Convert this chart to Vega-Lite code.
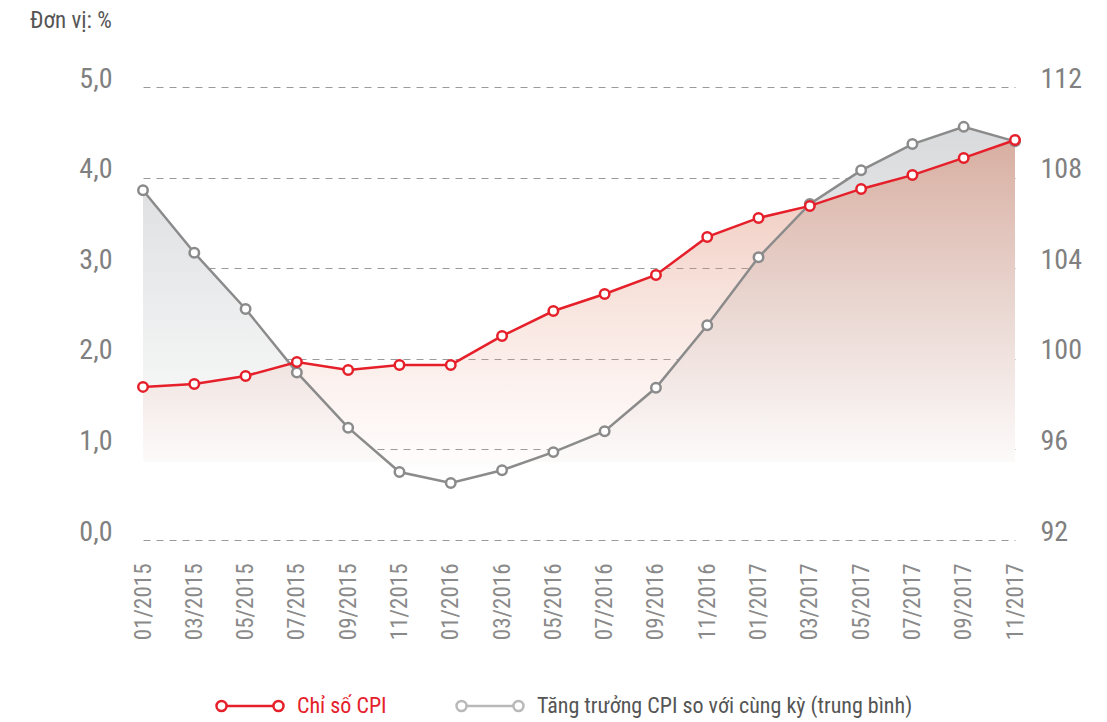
{
  "$schema": "https://vega.github.io/schema/vega-lite/v6.json",
  "width": 872,
  "height": 453,
  "autosize": {"type": "none"},
  "padding": {"left": 143, "top": 87, "right": 92, "bottom": 182},
  "background": "white",
  "title": {
    "text": "Đơn vị: %",
    "anchor": "start",
    "frame": "group",
    "orient": "top",
    "baseline": "alphabetic",
    "offset": 14,
    "dx": -113,
    "font": "Roboto Condensed, Liberation Sans Narrow, DejaVu Sans Condensed, sans-serif",
    "fontSize": 23,
    "fontWeight": "normal",
    "color": "#555555"
  },
  "data": {
    "values": [
      {"month": "01/2015", "growth": 3.86, "cpi": 98.76},
      {"month": "03/2015", "growth": 3.17, "cpi": 98.89},
      {"month": "05/2015", "growth": 2.55, "cpi": 99.24},
      {"month": "07/2015", "growth": 1.85, "cpi": 99.86},
      {"month": "09/2015", "growth": 1.24, "cpi": 99.51},
      {"month": "11/2015", "growth": 0.75, "cpi": 99.73},
      {"month": "01/2016", "growth": 0.63, "cpi": 99.73},
      {"month": "03/2016", "growth": 0.77, "cpi": 101.01},
      {"month": "05/2016", "growth": 0.97, "cpi": 102.11},
      {"month": "07/2016", "growth": 1.2, "cpi": 102.86},
      {"month": "09/2016", "growth": 1.68, "cpi": 103.7},
      {"month": "11/2016", "growth": 2.37, "cpi": 105.38},
      {"month": "01/2017", "growth": 3.12, "cpi": 106.22},
      {"month": "03/2017", "growth": 3.71, "cpi": 106.75},
      {"month": "05/2017", "growth": 4.08, "cpi": 107.5},
      {"month": "07/2017", "growth": 4.37, "cpi": 108.11},
      {"month": "09/2017", "growth": 4.56, "cpi": 108.87},
      {"month": "11/2017", "growth": 4.4, "cpi": 109.66}
    ]
  },
  "encoding": {
    "x": {
      "field": "month",
      "type": "ordinal",
      "sort": null,
      "scale": {"type": "point", "padding": 0},
      "axis": {
        "title": null,
        "labelAngle": 270,
        "labelAlign": "right",
        "labelBaseline": "middle",
        "labelPadding": 23,
        "ticks": false,
        "domain": false,
        "grid": false,
        "labelFont": "Roboto Condensed, Liberation Sans Narrow, DejaVu Sans Condensed, sans-serif",
        "labelFontSize": 23,
        "labelColor": "#8a8a8a"
      }
    }
  },
  "layer": [
    {
      "mark": {
        "type": "area",
        "fill": {
          "gradient": "linear", "x1": 0, "y1": 0, "x2": 0, "y2": 1,
          "stops": [
            {"offset": 0, "color": "#d9dadc"},
            {"offset": 1, "color": "#ffffff"}
          ]
        }
      },
      "encoding": {
        "y": {"field": "growth", "type": "quantitative", "scale": {"domain": [0, 5], "nice": false, "zero": false}, "axis": null},
        "y2": {"datum": 0.86}
      }
    },
    {
      "mark": {
        "type": "area",
        "fill": {
          "gradient": "linear", "x1": 0, "y1": 0, "x2": 0, "y2": 1,
          "stops": [
            {"offset": 0, "color": "rgba(215,125,95,0.48)"},
            {"offset": 1, "color": "rgba(240,170,150,0.03)"}
          ]
        }
      },
      "encoding": {
        "y": {"field": "cpi", "type": "quantitative", "scale": {"domain": [92, 112], "nice": false, "zero": false}, "axis": null},
        "y2": {"datum": 95.44}
      }
    },
    {
      "mark": {
        "type": "line",
        "strokeWidth": 2.5,
        "point": {"filled": false, "fill": "white", "size": 90, "strokeWidth": 2.5}
      },
      "encoding": {
        "y": {
          "field": "growth", "type": "quantitative",
          "scale": {"domain": [0, 5], "nice": false, "zero": false},
          "axis": {
            "orient": "left",
            "title": null,
            "values": [0, 1, 2, 3, 4, 5],
            "labelExpr": "replace(format(datum.value, '.1f'), '.', ',')",
            "grid": true,
            "gridDash": [7, 6],
            "gridColor": "#9a9a9a",
            "gridWidth": 1,
            "domain": false,
            "ticks": false,
            "labelPadding": 31,
            "labelBaseline": "alphabetic",
            "labelFont": "Roboto Condensed, Liberation Sans Narrow, DejaVu Sans Condensed, sans-serif",
            "labelFontSize": 28,
            "labelColor": "#808080"
          }
        },
        "color": {
          "datum": "Tăng trưởng CPI so với cùng kỳ (trung bình)",
          "scale": {"domain": ["Chỉ số CPI", "Tăng trưởng CPI so với cùng kỳ (trung bình)"], "range": ["#e5202a", "#8b8b8b"]}
        }
      }
    },
    {
      "mark": {
        "type": "line",
        "strokeWidth": 2.5,
        "point": {"filled": false, "fill": "white", "size": 90, "strokeWidth": 2.5}
      },
      "encoding": {
        "y": {
          "field": "cpi", "type": "quantitative",
          "scale": {"domain": [92, 112], "nice": false, "zero": false},
          "axis": {
            "orient": "right",
            "title": null,
            "values": [92, 96, 100, 104, 108, 112],
            "grid": false,
            "domain": false,
            "ticks": false,
            "labelPadding": 25,
            "labelBaseline": "alphabetic",
            "labelFont": "Roboto Condensed, Liberation Sans Narrow, DejaVu Sans Condensed, sans-serif",
            "labelFontSize": 28,
            "labelColor": "#808080"
          }
        },
        "color": {
          "datum": "Chỉ số CPI",
          "scale": {"domain": ["Chỉ số CPI", "Tăng trưởng CPI so với cùng kỳ (trung bình)"], "range": ["#e5202a", "#8b8b8b"]},
          "legend": {
            "encode": {
              "labels": {"update": {"fill": {"signal": "datum.value === 'Chỉ số CPI' ? '#e5202a' : '#555555'"}}},
              "symbols": {"update": {"strokeOpacity": {"signal": "datum.value === 'Chỉ số CPI' ? 1 : 0.6"}, "fill": {"value": "white"}}}
            }
          }
        }
      }
    }
  ],
  "resolve": {"scale": {"y": "independent"}},
  "config": {
    "view": {"stroke": null},
    "legend": {
      "orient": "none",
      "legendX": 72,
      "legendY": 584,
      "direction": "horizontal",
      "title": null,
      "padding": 0,
      "symbolType": "M-1,0 A0.15,0.15 0 1,1 -0.7,0 A0.15,0.15 0 1,1 -1,0 Z M-0.7,0 L0.7,0 M0.7,0 A0.15,0.15 0 1,1 1,0 A0.15,0.15 0 1,1 0.7,0 Z",
      "symbolSize": 4489,
      "symbolStrokeWidth": 2.5,
      "symbolFillColor": "white",
      "labelOffset": 12,
      "columnPadding": 64,
      "labelFont": "Roboto Condensed, Liberation Sans Narrow, DejaVu Sans Condensed, sans-serif",
      "labelFontSize": 22,
      "labelLimit": 600
    }
  }
}
